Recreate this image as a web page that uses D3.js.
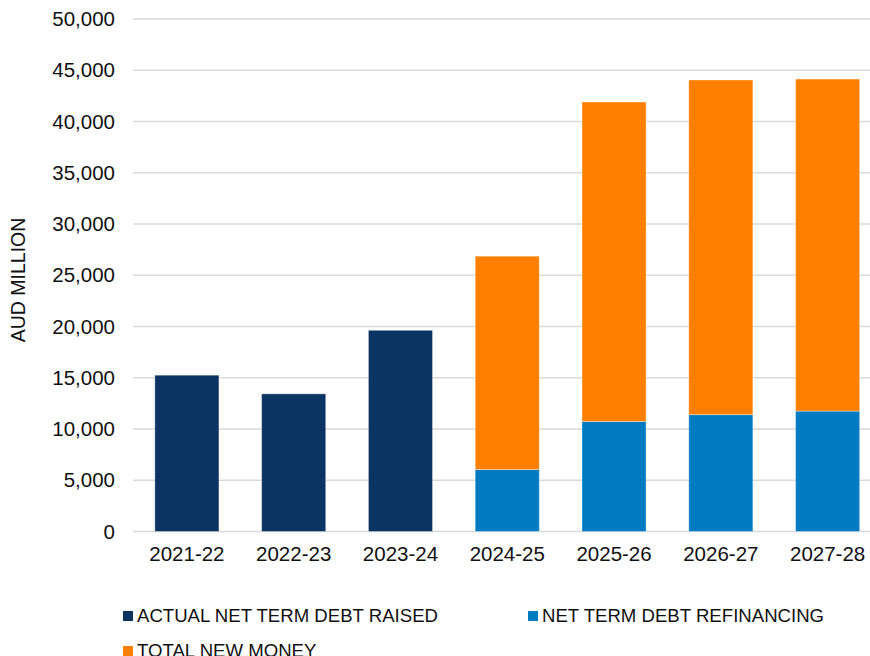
<!DOCTYPE html>
<html>
<head>
<meta charset="utf-8">
<script src="https://cdn.jsdelivr.net/npm/d3@7"></script>
<style>
  body { margin: 0; background: #fff; }
  svg { display: block; font-family: "Liberation Sans", Arial, sans-serif; }
</style>
</head>
<body>
<svg id="svg1" width="870" height="656"></svg>
<script>

// chart data
let years = ["2021-22", "2022-23", "2023-24", "2024-25", "2025-26", "2026-27", "2027-28"];
let actualRaised = [15250, 13430, 19630, 0, 0, 0, 0];
let refinancing = [0, 0, 0, 6050, 10740, 11400, 11750];
let newMoney = [0, 0, 0, 20810, 31160, 32650, 32390];
let yTicks = [0, 5000, 10000, 15000, 20000, 25000, 30000, 35000, 40000, 45000, 50000];

let seriesNames = ["ACTUAL NET TERM DEBT RAISED", "NET TERM DEBT REFINANCING", "TOTAL NEW MONEY"];
let seriesColours = ["#0b3463", "#007bc2", "#ff8000"];

let svg = d3.select("#svg1");

let x = d3.scaleBand().domain(years).range([133.5, 881]).paddingInner(0.4).paddingOuter(0.2);
let y = d3.scaleLinear().domain([0, 50000]).range([531.5, 19]);

// gridlines
svg.append("g")
  .selectAll("line")
  .data(yTicks)
  .enter().append("line")
    .attr("x1", 133)
    .attr("x2", 870)
    .attr("y1", d => y(d))
    .attr("y2", d => y(d))
    .attr("stroke", "#d9d9d9")
    .attr("stroke-width", 1.5);

// y axis labels
let yAxis = svg.append("g")
  .attr("transform", "translate(124,0)")
  .call(d3.axisLeft(y).tickValues(yTicks).tickFormat(d3.format(",")).tickSize(0).tickPadding(9));
yAxis.select(".domain").remove();
yAxis.selectAll("text")
  .style("font-size", "20.5px")
  .style("font-family", "'Liberation Sans', Arial, sans-serif")
  .attr("fill", "#111");

// x axis labels
let xAxis = svg.append("g")
  .attr("transform", "translate(0,531.5)")
  .call(d3.axisBottom(x).tickSize(0).tickPadding(15));
xAxis.select(".domain").remove();
xAxis.selectAll("text")
  .style("font-size", "20.5px")
  .style("font-family", "'Liberation Sans', Arial, sans-serif")
  .attr("fill", "#111");

// stack the three series
let rows = years.map((yr, i) => ({year: yr, a: actualRaised[i], r: refinancing[i], n: newMoney[i]}));
let stack = d3.stack().keys(["a", "r", "n"])(rows);

svg.append("g")
  .selectAll("g")
  .data(stack)
  .enter().append("g")
    .attr("fill", (d, i) => seriesColours[i])
  .selectAll("rect")
  .data(d => d.filter(p => p[1] > p[0]))
  .enter().append("rect")
    .attr("x", d => x(d.data.year))
    .attr("y", d => y(d[1]))
    .attr("width", x.bandwidth())
    .attr("height", d => y(d[0]) - y(d[1]))
    .attr("stroke", "rgba(255,255,255,0.35)")
    .attr("stroke-width", 1);

// y axis title
svg.append("text")
  .attr("transform", "translate(25,280) rotate(-90)")
  .attr("text-anchor", "middle")
  .style("font-size", "19.5px")
  .attr("fill", "#111")
  .text("AUD MILLION");

// legend
let legendPos = [[123, 611], [528, 611], [123, 646]];
let legend = svg.append("g")
  .selectAll("g")
  .data(seriesNames)
  .enter().append("g")
    .attr("transform", (d, i) => `translate(${legendPos[i][0]},${legendPos[i][1]})`);

legend.append("rect")
  .attr("width", 10)
  .attr("height", 10)
  .attr("fill", (d, i) => seriesColours[i]);

legend.append("text")
  .attr("x", 14)
  .attr("y", 10.5)
  .style("font-size", "18.6px")
  .attr("fill", "#111")
  .text(d => d);

</script>
</body>
</html>
